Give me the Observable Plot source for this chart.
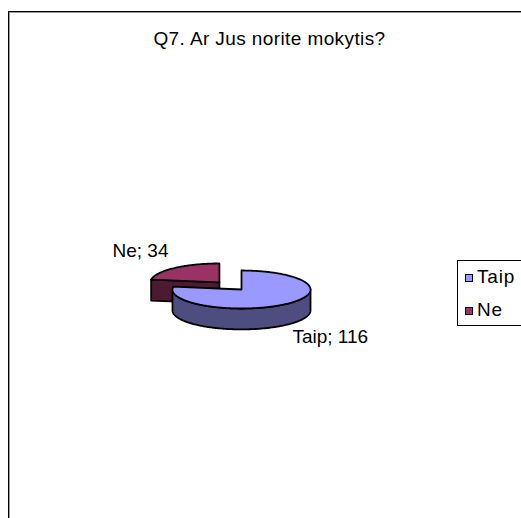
<!DOCTYPE html>
<html><head><meta charset="utf-8">
<script src="https://cdn.jsdelivr.net/npm/d3@7"></script>
<script src="https://cdn.jsdelivr.net/npm/@observablehq/plot@0.6"></script>
<style>
html,body{margin:0;padding:0;overflow:hidden;background:#fff;width:521px;height:518px;}
body{position:relative;font-family:"Liberation Sans",Arial,sans-serif;color:#000;}
#chart{position:absolute;left:0;top:0;}
#title{position:absolute;left:0;width:539px;top:29px;text-align:center;font-size:19px;line-height:1;white-space:nowrap;letter-spacing:0.4px;}
#legend{position:absolute;left:457px;top:260px;width:90px;height:64px;border:1px solid #000;background:#fff;}
.sw{position:absolute;left:7px;width:6px;height:6px;border:1px solid #000;}
.lab{position:absolute;left:19px;font-size:19px;line-height:1;white-space:nowrap;letter-spacing:0.8px;}
#frame{position:absolute;left:8px;top:11px;width:620px;height:620px;border:1px solid #000;box-shadow:inset 1px 1px 0 #999;}
</style>
</head><body>
<div id="chart"></div>
<div id="title"></div>
<div id="legend"></div>
<div id="frame"></div>
<script>
// ---- data ----
const categories = ["Taip", "Ne"];
const values = [116, 34];
const title = "Q7. Ar Jus norite mokytis?";

// ---- styles ----
const topColors = ["#9999FF", "#993366"];
const sideColors = ["#4D4D80", "#4D1A33"];
const explode = [0, 0.49];   // radial offset (radius units)
const depth = 1.1;           // pie thickness (radius units in y)

const data = categories.map((c, i) => ({cat: c, value: values[i], i}));
const arcs = d3.pie().sort(null).value(d => d.value)(data);

const deg = Math.PI / 180;
function pt(a, ox, oy, dz) { return {x: ox + Math.sin(a), y: oy + Math.cos(a) - dz}; }
function arcPts(a0, a1, ox, oy, dz) {
  const n = Math.max(2, Math.ceil(Math.abs(a1 - a0) / deg));
  const out = [];
  for (let k = 0; k <= n; k++) out.push(pt(a0 + (a1 - a0) * k / n, ox, oy, dz));
  return out;
}

const marks = [];
const labels = [];
// back slices first
const order = arcs.map((a, j) => j).sort((p, q) => {
  const mp = (arcs[p].startAngle + arcs[p].endAngle) / 2, mq = (arcs[q].startAngle + arcs[q].endAngle) / 2;
  return Math.cos(mq) - Math.cos(mp);
});
const lineStyle = {x: "x", y: "y", stroke: "#000", strokeWidth: 1.8, strokeLinejoin: "round", curve: "linear-closed"};
for (const j of order) {
  const a = arcs[j], i = a.data.i;
  const s = a.startAngle, e = a.endAngle, m = (s + e) / 2;
  const ox = explode[i] * Math.sin(m), oy = explode[i] * Math.cos(m);
  if (Math.sin(s) < -1e-6) {
    const f = [{x: ox, y: oy}, pt(s, ox, oy, 0), pt(s, ox, oy, depth), {x: ox, y: oy - depth}];
    marks.push(Plot.line(f, {...lineStyle, fill: sideColors[i]}));
  }
  if (Math.sin(e) > 1e-6) {
    const f = [{x: ox, y: oy}, pt(e, ox, oy, 0), pt(e, ox, oy, depth), {x: ox, y: oy - depth}];
    marks.push(Plot.line(f, {...lineStyle, fill: sideColors[i]}));
  }
  const f0 = Math.max(s, Math.PI / 2), f1 = Math.min(e, 3 * Math.PI / 2);
  if (f1 > f0) {
    const f = [...arcPts(f0, f1, ox, oy, 0), ...arcPts(f1, f0, ox, oy, depth)];
    marks.push(Plot.line(f, {...lineStyle, fill: sideColors[i]}));
  }
  const topFace = [{x: ox, y: oy}, ...arcPts(s, e, ox, oy, 0)];
  marks.push(Plot.line(topFace, {...lineStyle, fill: topColors[i]}));
  const r = 1.13;
  const lx = ox + r * Math.sin(m), ly = oy + r * Math.cos(m);
  const front = Math.cos(m) < 0;
  labels.push({x: lx, y: ly, text: `${a.data.cat}; ${a.data.value}`, anchor: Math.sin(m) < 0 ? "end" : "start", dy: front ? 31 : -15});
}
for (const l of labels) {
  marks.push(Plot.text([l], {x: "x", y: "y", text: "text", textAnchor: l.anchor, dy: l.dy, fill: "#000", fontSize: 19}));
}

const chart = Plot.plot({
  width: 521, height: 518, margin: 0,
  x: {domain: [-1, 1], range: [172, 310], axis: null},
  y: {domain: [-1, 1], range: [308, 270], axis: null},
  style: {background: "transparent", fontFamily: '"Liberation Sans", Arial, sans-serif', fontSize: "19px", overflow: "visible"},
  marks
});
document.getElementById("chart").appendChild(chart);
document.getElementById("title").textContent = title;

const leg = document.getElementById("legend");
categories.forEach((c, i) => {
  const sw = document.createElement("div");
  sw.className = "sw"; sw.style.top = (13 + i * 33) + "px"; sw.style.background = topColors[i];
  const lb = document.createElement("div");
  lb.className = "lab"; lb.style.top = (6 + i * 33) + "px"; lb.textContent = c;
  leg.appendChild(sw); leg.appendChild(lb);
});
</script>
</body></html>
